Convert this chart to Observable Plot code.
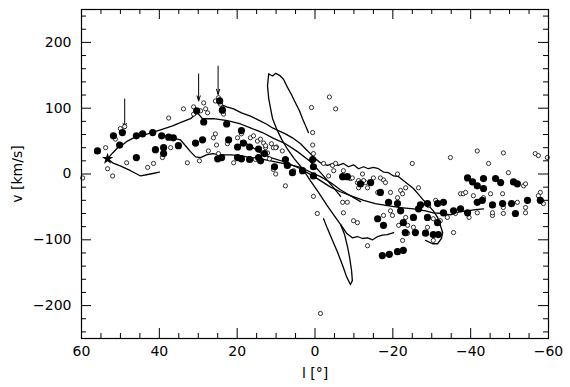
<!DOCTYPE html>
<html><head><meta charset="utf-8">
<script src="https://cdn.jsdelivr.net/npm/d3@7"></script>
<script src="https://cdn.jsdelivr.net/npm/@observablehq/plot@0.6"></script>
<style>body{margin:0;background:#fff}</style>
</head><body><div id="chart"></div>
<script>
// Tick values
const xMajor = [60, 40, 20, 0, -20, -40, -60];
const xMinor = [55, 50, 45, 35, 30, 25, 15, 10, 5, -5, -10, -15, -25, -30, -35, -45, -50, -55];
const yMajor = [-200, -100, 0, 100, 200];
const yMinor = [-240, -220, -180, -160, -140, -120, -80, -60, -40, -20, 20, 40, 60, 80, 120, 140, 160, 180, 220, 240];

// Filled circles (l, v)
const filledL = [55.9,51.8,49.5,50.2,45.9,44.3,45.9,41.7,41.0,39.4,38.9,38.9,37.6,36.4,35.1,30.7,28.9,30.4,28.6,24.5,23.8,22.7,25.0,24.0,22.2,19.9,18.9,18.4,16.8,19.9,18.9,16.8,14.5,14.5,13.0,10.4,14.0,7.6,7.1,5.8,3.2,0.6,0.4,0.4,-7.1,-8.3,-11.7,-14.3,-16.8,-18.9,-21.2,-22.0,-16.1,-17.6,-22.7,-25.3,-27.1,-28.9,-28.9,-31.5,-31.5,-33.0,-33.0,-35.6,-25.8,-28.4,-30.4,-31.7,-23.2,-17.3,-19.1,-21.2,-22.7,-39.2,-40.5,-41.7,-43.3,-43.3,-46.4,-47.7,-51.0,-52.0,-41.7,-43.0,-45.6,-48.2,-50.5,-51.5,-54.6,-57.9,-37.4,-39.2,-26.6];
const filledV = [35,58,63,44,58,61,25,63,37,58,40,31,56,55,43,47,52,96,79,111,97,76,23,25,52,41,66,47,41,25,23,22,38,25,31,11,20,22,13,2,5,22,11,-3,-4,-4,-15,-13,-28,-43,-45,-56,-68,-78,-74,-66,-47,-45,-66,-45,-74,-43,-59,-56,-89,-90,-92,-92,-89,-124,-122,-118,-116,-6,-12,-18,-7,-22,-7,-13,-12,-15,-43,-40,-47,-45,-45,-60,-40,-40,-53,-59,-53];

// Open circles (l, v)
const openL = [59.7,53.8,53.3,52,51.3,50,48.9,48.4,43,41.5,37.6,37.1,33.8,32.8,31.2,31.2,29.4,28.6,28.1,27.6,25.6,25.3,24.8,24.3,23.8,23.5,25.6,26.1,20.9,19.9,18.9,16.6,15.8,14.8,13.2,12.7,12.2,11.2,10.7,10.1,10.7,7.6,11.7,15.3,22.5,29.7,-3.7,0.9,-5.3,0.6,0.6,0.4,-2.2,-4.5,-5.3,-25,-34.8,-41.7,-48.4,-44.6,-49.7,-56.6,-57.4,-59.7,-9.1,-10.9,-13.5,-16.1,-17.6,-21.2,-26.6,-19.4,-53.6,-57.9,-48.2,-45.1,-37.4,0.4,-0.6,-7.1,-9.9,-10.9,-13.5,-17.6,-19.9,-23.8,-23.8,-22.5,-28.9,-30.4,-35.6,-36.1,-1.4,-38.1,-45.6,-48.4,-54.1,-58.7,-7.3,-8.3,-9.6,-11.2,-12.2,-13,-15,-16.8,-18.1,-22,-23.3,-21.2,-19.4,-23.3,-21.5,-25.3,-29.2,-31,-30.4,-32.2,-34,-22.5,-38.7,-40.7,-43.3,-45.6,-39.6,-41.7,-54.1,-52,-48.4,-54.1,-57.4,9.9,8.4,5.5,-7.3,14,39.2,27.4,24.8,12.7,10.1,-3.5,-4.8,-11.2,-12.5];
const openV = [-6,40,8,-3,53,69,72,17,10,16,85,40,99,17,102,91,96,108,99,93,111,44,116,106,100,91,61,55,17,55,61,55,58,50,47,40,32,46,40,0,7,-18,23,22,46,20,117,101,99,63,44,31,16,13,16,16,25,35,32,16,2,31,28,25,-7,-13,-21,-28,-9,0,-21,-28,-18,-28,-30,-30,-30,-34,-60,-43,-71,-74,-109,-63,-63,-78,-90,-101,-81,-101,-89,-60,-212,-30,-63,-60,-59,-45,-59,-43,-6,-10,0,-13,-6,-6,-13,-25,-21,-36,-56,-66,-78,-81,-48,-40,-68,-71,-66,-30,-28,-33,-36,-59,-66,-59,-51,-43,-51,-15,-33,41,35,5,5,53,25,35,31,43,40,-3,5,-21,-10];

// Star marker
const starL = [53.3];
const starV = [23];

// Arrows
const arrowL = [48.9, 29.9, 24.9];
const arrowTop = [114, 152, 164];
const arrowTip = [69, 111, 121];

// Curves
const c1L = [53.3,52.0,50.7,49.5,48.2,46.6,43.0,39.7,36.6,34.6,32.0,30.2,28.9,26.1,22.5,19.1,16.6,13.5,10.9,7.6,4.5,1.2,-1.9,-4.8,-6.6];
const c1V = [23,32,40,44,50,55,61,67,73,78,84,93,84,84,81,76,70,63,55,46,34,19,-1,-21,-34];

const c2L = [24.3,22.7,20.9,18.9,16.6,14.5,12.5,10.9,9.4,7.6,5.8,3.7,2.4,1.2,-0.1,-1.4,-3.2,-4.8,-6.0,-7.3,-8.6,-9.9,-11.2,-12.5,-13.7,-15.0,-16.3,-17.6,-18.9,-20.2,-21.5,-22.7,-24.0,-25.3,-26.6,-27.9,-29.2,-30.4,-31.5,-32.2,-32.8,-32.5,-31.5,-30.2,-28.4];
const c2V = [106,102,99,93,88,82,76,70,66,61,55,46,38,31,23,17,13,16,13,16,11,14,8,11,8,10,8,3,2,-3,-4,-10,-16,-22,-31,-40,-48,-56,-66,-78,-89,-98,-106,-106,-101];

const c3L = [53.3,52.0,49.9,47.4,44.8,42.3,40.0];
const c3V = [23,17,12,5,-3,0,3];

const c4L = [38.4,36.6,34.6,33.0,32.0,30.7,29.4,27.9,26.3,24.3,21.7,19.1,16.6,14.0,11.4,8.9,6.3,3.7,1.2,-1.4,-4.0,-6.5,-9.1,-11.7];
const c4V = [58,55,52,41,34,26,25,29,31,29,29,28,25,23,20,17,14,10,3,-4,-13,-24,-33,-42];

const c5L = [19.1,16.6,14.0,11.4,8.1,3.7,-0.6,-4.0,-6.5,-9.1,-12.5,-15.5,-18.6,-22.0,-25.3,-28.4,-30.4,-32.8,-34.8,-37.4,-39.2,-41.2,-43.3];
const c5V = [50,43,32,25,19,8,-7,-20,-27,-33,-40,-45,-48,-51,-53,-56,-59,-60,-62,-57,-56,-54,-53];

const loopRightL = [11.9,10.9,10.1,9.1,8.1,7.1,6.0,5.0,4.0,3.2,2.4,1.7];
const loopRightV = [152,149,153,150,144,132,120,108,96,84,73,63];

const loopLeftL = [11.9,12.2,11.9,11.4,10.9,9.9,8.6,7.1,5.3,3.2,1.2,-0.9,-3.0,-4.8,-6.6,-7.6,-8.3,-8.9,-9.4,-9.6,-9.1,-8.1,-7.1,-5.8,-4.5,-3.2,-2.2];
const loopLeftV = [152,134,115,99,84,69,53,38,23,8,-10,-28,-47,-62,-77,-92,-109,-127,-147,-162,-168,-156,-139,-119,-101,-83,-68];

const c6L = [-6.6,-8.1,-9.6,-10.9,-12.2,-13.5,-14.8,-16.1,-17.3,-18.6,-20.2];
const c6V = [-77,-90,-97,-95,-98,-97,-100,-95,-93,-92,-89];

const curves = [[c1L,c1V],[c2L,c2V],[c3L,c3V],[c4L,c4V],[c5L,c5V],[loopRightL,loopRightV],[loopLeftL,loopLeftV],[c6L,c6V]];

const FH = 329, FW = 467;
const chart = Plot.plot({
  width: 570, height: 387,
  marginLeft: 81, marginRight: 22, marginTop: 9, marginBottom: 49,
  x: {domain: [60, -60]},
  y: {domain: [-250, 250]},
  style: {fontFamily: "DejaVu Sans", fontSize: "14px", background: "white", color: "black"},
  marks: [
    ...curves.map(([L, V]) => Plot.line(L, {x: L, y: V, stroke: "black", strokeWidth: 1.3, curve: "linear"})),
    Plot.arrow(arrowL, {x1: arrowL, x2: arrowL, y1: arrowTop, y2: arrowTip, stroke: "black", strokeWidth: 1, headLength: 8, headAngle: 35}),
    Plot.dot(openL, {x: openL, y: openV, r: 2.1, stroke: "black", strokeWidth: 0.8, fill: "white"}),
    Plot.dot(filledL, {x: filledL, y: filledV, r: 3.6, fill: "black", stroke: "none"}),
    Plot.dot(starL, {x: starL, y: starV, r: 3.6, symbol: "star", fill: "black"}),
    Plot.tickX(xMajor, {x: d => d, insetTop: FH - 10, stroke: "black"}),
    Plot.tickX(xMinor, {x: d => d, insetTop: FH - 5, stroke: "black"}),
    Plot.tickX(xMajor, {x: d => d, insetBottom: FH - 10, stroke: "black"}),
    Plot.tickX(xMinor, {x: d => d, insetBottom: FH - 5, stroke: "black"}),
    Plot.tickY(yMajor, {y: d => d, insetRight: FW - 10, stroke: "black"}),
    Plot.tickY(yMinor, {y: d => d, insetRight: FW - 5, stroke: "black"}),
    Plot.tickY(yMajor, {y: d => d, insetLeft: FW - 10, stroke: "black"}),
    Plot.tickY(yMinor, {y: d => d, insetLeft: FW - 5, stroke: "black"}),
    Plot.axisX({ticks: xMajor, tickSize: 0, tickPadding: 8, label: null}),
    Plot.axisY({ticks: yMajor, tickSize: 0, tickPadding: 10, label: null}),
    Plot.frame({stroke: "black", strokeWidth: 1.2}),
    Plot.text(["l [°]"], {frameAnchor: "bottom", dy: 30, lineAnchor: "top", fontSize: 14}),
    Plot.text(["v [km/s]"], {frameAnchor: "left", dx: -64, rotate: -90, textAnchor: "middle", lineAnchor: "middle", fontSize: 14})
  ]
});
document.getElementById("chart").appendChild(chart);
</script>
</body></html>
